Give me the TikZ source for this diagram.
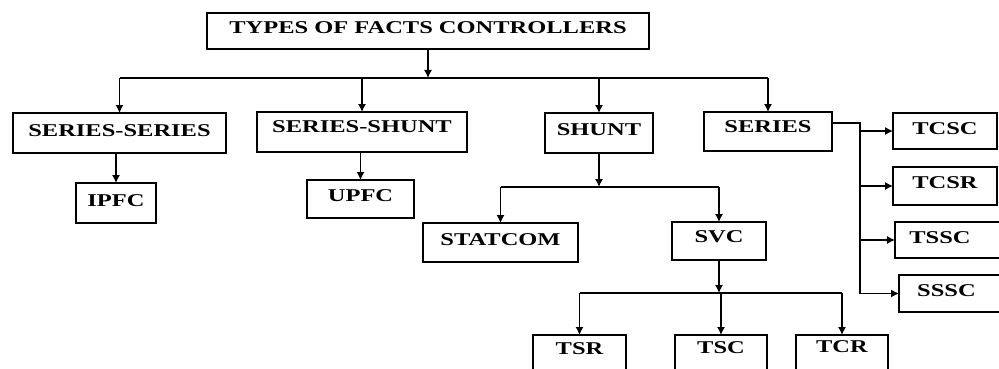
\documentclass[tikz,border=0pt]{standalone}
\usepackage{fontspec}
\setmainfont{Liberation Serif}
\usetikzlibrary{arrows.meta}
\newcommand\widecaps[1]{\scalebox{1.36}[1]{#1}}
\tikzset{
  box/.style={draw, line width=2.2pt, inner sep=0pt, outer sep=0pt, fill=white},
  lbl/.style={font=\bfseries\fontsize{18}{18}\selectfont},
  arr/.style={-{Latex[length=8pt,width=8pt]}},
  conn/.style={line width=1.2pt}
}
% \bx{name}{centre x}{centre y}{width}{height}{text raise}{text xshift}{text}
\newcommand\bx[8]{%
  \node[box, minimum width=#4pt, minimum height=#5pt,
        label={[lbl, yshift=#6pt, xshift=#7pt]center:\widecaps{#8}}]
    (#1) at (#2,#3) {};}
\begin{document}
\begin{tikzpicture}[x=1pt,y=-1pt]
\useasboundingbox (0,0) rectangle (999,369);
\clip (0,0) rectangle (999,369);

% boxes
\bx{top}{428}{31}{442}{36}{3}{0}{TYPES OF FACTS CONTROLLERS}
\bx{ss}{119.5}{133}{213}{40}{2.5}{0}{SERIES-SERIES}
\bx{sh}{362}{132}{210}{40}{5}{0}{SERIES-SHUNT}
\bx{shunt}{599}{133}{108}{40}{3}{0}{SHUNT}
\bx{series}{768}{131.5}{128}{39}{5}{0}{SERIES}
\bx{ipfc}{116}{203}{80}{40}{2}{0}{IPFC}
\bx{upfc}{360.5}{199}{107}{38}{3}{0}{UPFC}
\bx{statcom}{500.5}{242.5}{155}{39}{2.5}{0}{STATCOM}
\bx{svc}{719}{241}{94}{38}{4}{0}{SVC}
\bx{tsr}{579.5}{354}{93}{38}{5}{0}{TSR}
\bx{tsc}{721}{354}{92}{38}{6.5}{0}{TSC}
\bx{tcr}{842}{354}{92}{38}{7}{0}{TCR}
\bx{tcsc}{945}{131}{104}{36}{2.5}{0}{TCSC}
\bx{tcsr}{945}{186}{104}{38}{3}{0}{TCSR}
\bx{tssc}{950}{240}{110}{36}{2}{-10}{TSSC}
\bx{sssc}{952}{293.5}{106}{37}{2.5}{-5.5}{SSSC}

% bus levels
\coordinate (bus1) at (0,78);
\coordinate (bus2) at (0,187);
\coordinate (bus3) at (0,293);
\coordinate (spine) at (860,0);

\begin{scope}[conn]
  % main split
  \draw[arr] (top.south) -- (top.south |- bus1);
  \draw (ss.north |- bus1) -- (series.north |- bus1);
  \foreach \n in {ss,sh,shunt,series}
    \draw[arr] (\n.north |- bus1) -- (\n.north);
  % single children
  \draw[arr] (ipfc.north |- ss.south) -- (ipfc.north);
  \draw[arr] (upfc.north |- sh.south) -- (upfc.north);
  % shunt branch
  \draw[arr] (shunt.south) -- (shunt.south |- bus2);
  \draw (statcom.north |- bus2) -- (svc.north |- bus2);
  \foreach \n in {statcom,svc}
    \draw[arr] (\n.north |- bus2) -- (\n.north);
  % svc branch
  \draw[arr] (svc.south) -- (svc.south |- bus3);
  \draw (tsr.north |- bus3) -- (tcr.north |- bus3);
  \foreach \n in {tsr,tsc,tcr}
    \draw[arr] (\n.north |- bus3) -- (\n.north);
  % series branch
  \draw ([yshift=8.5pt]series.east) -| (spine |- sssc.west);
  \foreach \n in {tcsc,tcsr,tssc,sssc}
    \draw[arr] (spine |- \n.west) -- (\n.west);
\end{scope}
\end{tikzpicture}
\end{document}
